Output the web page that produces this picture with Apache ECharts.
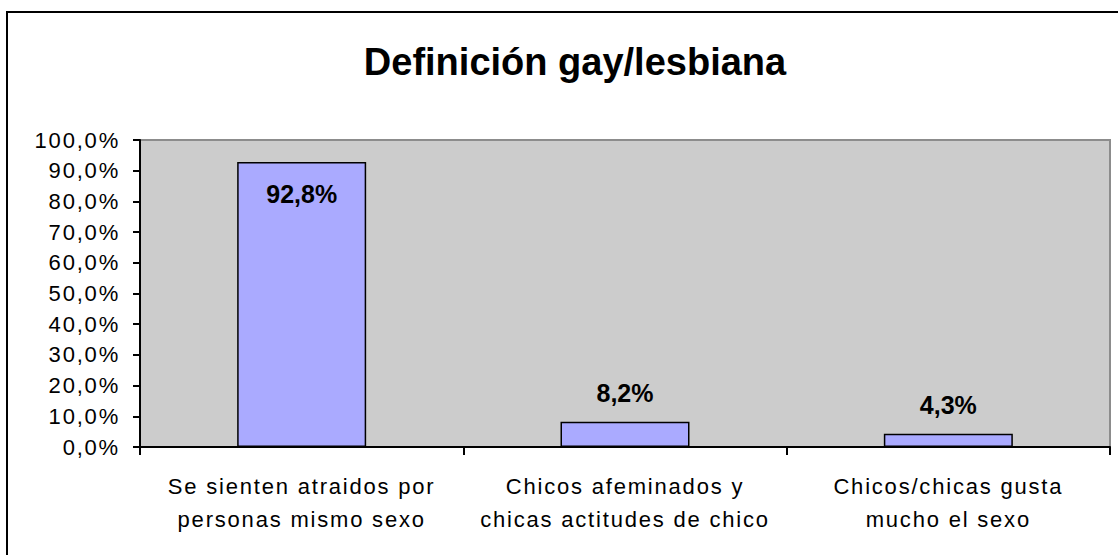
<!DOCTYPE html>
<html>
<head>
<meta charset="utf-8">
<script src="https://cdn.jsdelivr.net/npm/echarts@6/dist/echarts.min.js"></script>
<style>
  html, body { margin: 0; padding: 0; background: #fff; }
  #main { width: 1118px; height: 555px; }
  /* espaciado tipo Excel en textos de ejes */
  #main text[style*="Arimo"], #main text[font-family*="Arimo"] { letter-spacing: 1.8px; }
</style>
</head>
<body>
<div id="main"></div>
<script>
// datos del gráfico
const categorias = [
    'Se sienten atraidos por\npersonas mismo sexo',
    'Chicos afeminados y\nchicas actitudes de chico',
    'Chicos/chicas gusta\nmucho el sexo'
];
const porcentajes = [92.8, 8.2, 4.3];
const titulo = 'Definición gay/lesbiana';

const spaced = 'Arimo, "Liberation Sans", Arial, sans-serif';
const plain = '"Liberation Sans", Arial, sans-serif';

function fmt(v) {
    return v.toFixed(1).replace('.', ',') + '%';
}

const chart = echarts.init(document.getElementById('main'), null, { renderer: 'svg' });

const option = {
    animation: false,
    graphic: [
        {
            type: 'rect',
            shape: { x: 7, y: 12, width: 1300, height: 700 },
            style: { fill: 'none', stroke: '#000', lineWidth: 2 },
            silent: true
        },
        {
            type: 'text',
            x: 575,
            y: 62,
            style: {
                text: titulo,
                fontFamily: plain,
                fontWeight: 'bold',
                fontSize: 38,
                fill: '#000',
                align: 'center',
                verticalAlign: 'middle'
            }
        }
    ],
    grid: {
        left: 140,
        top: 140,
        width: 970,
        height: 307,
        show: true,
        backgroundColor: '#cccccc',
        borderColor: '#8c8c8c',
        borderWidth: 2
    },
    xAxis: {
        type: 'category',
        data: categorias,
        axisLine: { lineStyle: { color: '#000', width: 2 } },
        axisTick: { show: true, length: 8, lineStyle: { color: '#000', width: 2 } },
        axisLabel: {
            color: '#000',
            fontFamily: spaced,
            fontSize: 22,
            lineHeight: 33,
            margin: 23,
            interval: 0
        }
    },
    yAxis: {
        type: 'value',
        min: 0,
        max: 100,
        interval: 10,
        splitLine: { show: false },
        axisLine: { show: true, lineStyle: { color: '#000', width: 2 } },
        axisTick: { show: true, length: 7, lineStyle: { color: '#000', width: 2 } },
        axisLabel: {
            color: '#000',
            fontFamily: spaced,
            fontSize: 22,
            margin: 20,
            formatter: fmt
        }
    },
    series: [
        {
            type: 'bar',
            barWidth: 129,
            data: porcentajes.map((v, i) => ({
                value: v,
                label: i === 0
                    ? { position: 'insideTop', distance: 19 }
                    : { position: 'top', distance: 16 }
            })),
            itemStyle: {
                color: '#aaaaff',
                borderColor: '#000',
                borderWidth: 1.5
            },
            label: {
                show: true,
                color: '#000',
                fontFamily: plain,
                fontWeight: 'bold',
                fontSize: 25,
                formatter: p => fmt(p.value)
            }
        }
    ]
};

chart.setOption(option);
</script>
</body>
</html>
